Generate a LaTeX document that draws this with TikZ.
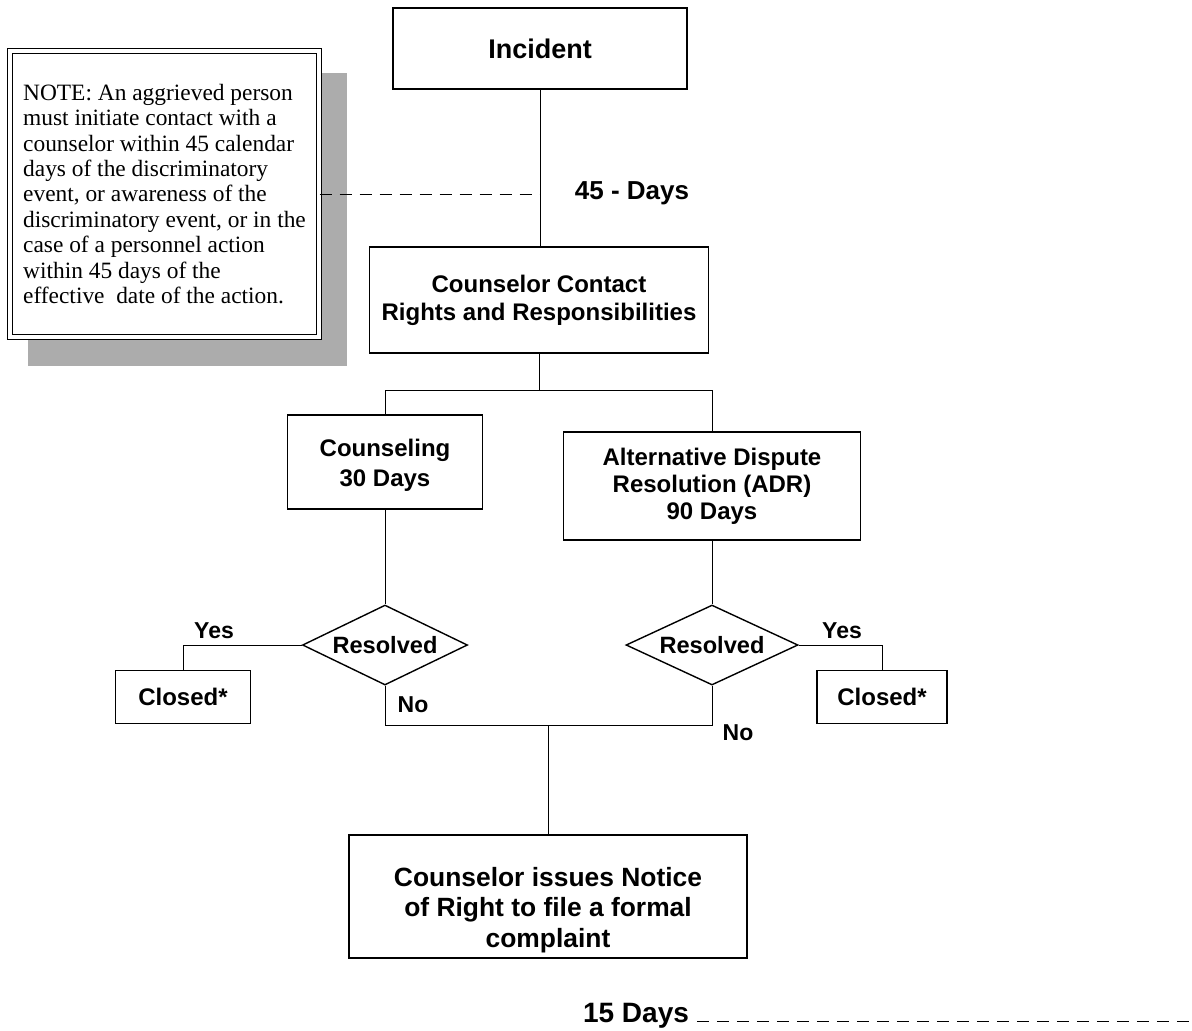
\documentclass[tikz,border=0pt]{standalone}
\usepackage{fontspec}
\setmainfont{Liberation Serif}
\setsansfont{Liberation Sans}
\usepackage{tikz}
\usetikzlibrary{calc}
\usetikzlibrary{shapes.geometric}
\usetikzlibrary{positioning}
\definecolor{shadowgray}{RGB}{172, 172, 172}

\begin{document}
\begin{tikzpicture}[x=0.5pt, y=-0.5pt,
    stepbox/.style={draw, line width=0.9pt, align=center, inner sep=0pt,
                    font=\sffamily\bfseries\fontsize{12}{14}\selectfont},
    decision/.style={diamond, draw, line width=0.7pt, inner sep=0pt, aspect=2.06,
                     font=\sffamily\bfseries\fontsize{11.8}{14}\selectfont},
    notebox/.style={draw, double, line width=0.6pt, double distance=1.8pt, fill=white,
                    align=left, font=\fontsize{11.7}{12.7}\selectfont},
    tag/.style={inner sep=0pt, font=\sffamily\bfseries\fontsize{11.5}{14}\selectfont},
    link/.style={line width=0.5pt},
    gap/.style={line width=0.5pt, dash pattern=on 6pt off 4pt}]
            \useasboundingbox                                        (0, 0) rectangle (1192, 1030);
            % note with shadow
            \fill[shadowgray]                                        (28, 73) rectangle (347, 366);
            \node[notebox, minimum width=154.5pt, minimum height=143pt] (note) at (164.5, 194)
                 {NOTE: An aggrieved person\\ must initiate contact with a\\ counselor within 45 calendar\\
                  days of the discriminatory\\ event, or awareness of the\\ discriminatory event, or in the\\
                  case of a personnel action\\ within 45 days of the\\ effective\ \ date of the action.};
            % boxes
            \node[stepbox, minimum width=147pt,   minimum height=40.5pt, font=\sffamily\bfseries\fontsize{13.5}{16}\selectfont]
                 (incident) at (540, 48.5) {Incident};
            \node[stepbox, minimum width=169.5pt, minimum height=53pt]   (contact)  at (539, 300)   {Counselor Contact\\ Rights and Responsibilities};
            \node[stepbox, minimum width=97.5pt,  minimum height=47pt, font=\sffamily\bfseries\fontsize{12}{15}\selectfont]
                 (counsel)  at (385, 462)   {\rule{0pt}{12pt}Counseling\\ 30 Days};
            \node[stepbox, minimum width=148.5pt, minimum height=54pt, font=\sffamily\bfseries\fontsize{12}{13.5}\selectfont]
                 (adr)      at (712, 486)   {Alternative Dispute\\ Resolution (ADR)\\ 90 Days};
            \node[decision, minimum width=82.5pt, minimum height=40pt]   (resL)     at (385, 645)   {Resolved};
            \node[decision, minimum width=86pt,   minimum height=40pt]   (resR)     at (712, 645)   {Resolved};
            \node[stepbox, minimum width=67.5pt,  minimum height=26.5pt] (closedL)  at (183, 697)   {Closed*};
            \node[stepbox, minimum width=65pt,    minimum height=26.5pt] (closedR)  at (882, 697)   {Closed*};
            \node[stepbox, minimum width=199pt,   minimum height=61.5pt, font=\sffamily\bfseries\fontsize{13.2}{15.2}\selectfont]
                 (notice)   at (548, 896.5) {\rule{0pt}{23pt}Counselor issues Notice\\ of Right to file a formal\\ complaint};
            % labels
            \node[tag, font=\sffamily\bfseries\fontsize{13}{16}\selectfont] (days45) at (632, 193)  {45 - Days};
            \node[tag]                                                    (yesL)   at (214, 631)  {Yes};
            \node[tag]                                                    (yesR)   at (842, 631)  {Yes};
            \node[tag]                                                    (noL)    at (413, 705)  {No};
            \node[tag]                                                    (noR)    at (738, 733)  {No};
            \node[tag, font=\sffamily\bfseries\fontsize{14}{16}\selectfont] (days15) at (636, 1016) {15 Days};
            % connectors
            \coordinate (fork)    at (539, 390);
            \coordinate (merge)   at (548, 725);
            \coordinate (dashend) at (1192, 1021);
            \draw[link] (incident.south) -- (incident.south |- contact.north);
            \draw[link] (contact.south) -- (fork);
            \draw[link] (counsel.north) |- (fork) -| (adr.north);
            \draw[link] (counsel.south) -- (resL.north);
            \draw[link] (adr.south) -- (resR.north);
            \draw[link] (resL.west) -| (closedL.north);
            \draw[link] (resR.east) -| (closedR.north);
            \draw[link] (resL.south) |- (merge) -| (resR.south);
            \draw[link] (merge) -- (notice.north);
            \draw[gap]  (note.east) -- (note.east -| incident.south);
            \draw[gap]  (days15.east |- dashend) ++(4pt, 0) -- (dashend);
\end{tikzpicture}
\end{document}
